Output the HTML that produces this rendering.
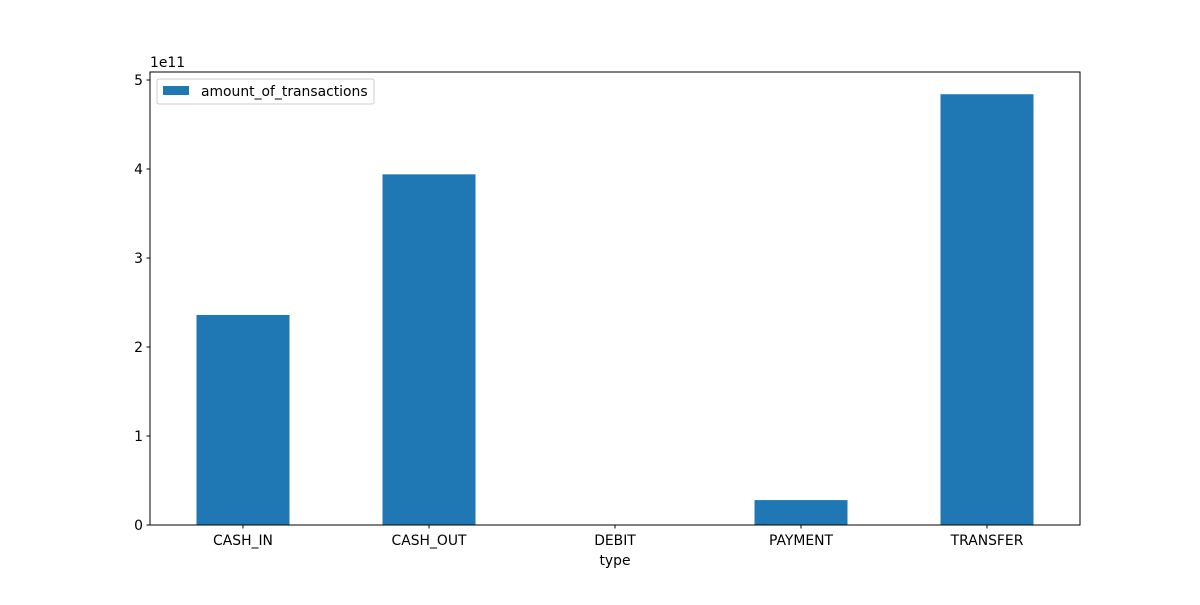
<!DOCTYPE html>
<html><head><meta charset="utf-8"><style>
body{margin:0;background:#fff;}
svg text{font-family:"DejaVu Sans","Liberation Sans",sans-serif;font-size:13.9px;fill:#000;}
</style></head><body>
<svg id="chart" width="1200" height="600" xmlns="http://www.w3.org/2000/svg"></svg>
<script>
const categories = ["CASH_IN","CASH_OUT","DEBIT","PAYMENT","TRANSFER"];
const values = [2.36e11, 3.94e11, 2.27e8, 0.28e11, 4.84e11];
const yTicks = [0,1,2,3,4,5];
const yTickLabels = ["0","1","2","3","4","5"];

const L=150,R=1080,T=72,B=525,yMax=5.09e11;
const svg=document.getElementById('chart');
const NS='http://www.w3.org/2000/svg';
function y(v){return B-(v/yMax)*(B-T);}
const step=(R-L)/categories.length;
function xc(i){return L+step*(i+0.5);}
function mk(tag,attrs,parent){const e=document.createElementNS(NS,tag);for(const k in attrs)e.setAttribute(k,attrs[k]);(parent||svg).appendChild(e);return e;}

values.forEach((v,i)=>{
  const r=mk('rect',{x:xc(i)-step/4,y:y(v),width:step/2,height:B-y(v),fill:'#1f77b4'});
  
  
});
const frame=mk('rect',{x:L,y:T,width:R-L,height:B-T,fill:'none',stroke:'#000','stroke-width':1});



categories.forEach((c,i)=>{
  mk('line',{x1:xc(i),x2:xc(i),y1:B,y2:B+3.5,stroke:'#000'});
  const t=mk('text',{x:xc(i),y:B+20,'text-anchor':'middle'});
  t.textContent=c;
  
  
});
yTicks.forEach((v,i)=>{
  const yy=y(v*1e11);
  mk('line',{x1:L-3.5,x2:L,y1:yy,y2:yy,stroke:'#000'});
  const t=mk('text',{x:L-7,y:yy+5,'text-anchor':'end'});
  t.textContent=yTickLabels[i];
  
  
});
const ex=mk('text',{x:L,y:T-5});
ex.textContent='1e11';


const xt=mk('text',{x:(L+R)/2,y:B+40,'text-anchor':'middle'});
xt.textContent='type';



const lg=mk('g',{});


mk('rect',{x:157,y:79,width:217,height:25,fill:'#fff',stroke:'#ccc',rx:2},lg);
mk('rect',{x:163,y:86,width:26,height:9,fill:'#1f77b4'},lg);
const lt=mk('text',{x:201,y:96},lg);
lt.textContent='amount_of_transactions';


</script>
</body></html>
